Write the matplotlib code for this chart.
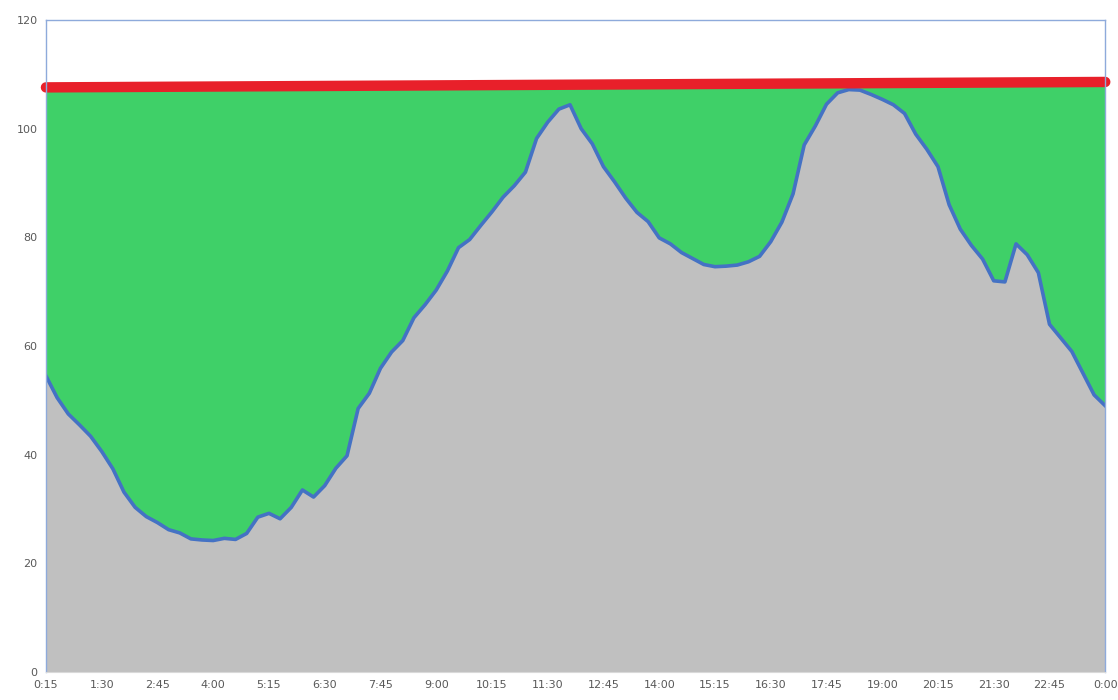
import numpy as np
import matplotlib.pyplot as plt

# load over one day, 15-minute steps starting at 0:15
load = [54.5, 50.5, 47.5, 45.5, 43.4, 40.6, 37.4, 33.1, 30.3, 28.6,
        27.5, 26.2, 25.6, 24.5, 24.3, 24.2, 24.6, 24.4, 25.5, 28.5,
        29.2, 28.2, 30.3, 33.5, 32.2, 34.3, 37.5, 39.8, 48.5, 51.3,
        55.9, 58.9, 61.0, 65.2, 67.6, 70.3, 73.8, 78.1, 79.6, 82.2,
        84.7, 87.4, 89.5, 92.0, 98.2, 101.2, 103.6, 104.4, 100.0, 97.2,
        93.0, 90.2, 87.2, 84.6, 82.9, 79.9, 78.8, 77.2, 76.1, 75.0,
        74.6, 74.7, 74.9, 75.5, 76.5, 79.2, 82.8, 88.0, 97.0, 100.5,
        104.5, 106.6, 107.2, 107.1, 106.3, 105.4, 104.4, 102.8, 99.0, 96.2,
        93.0, 86.0, 81.5, 78.5, 76.0, 72.0, 71.8, 78.8, 76.8, 73.5,
        64.0, 61.5, 59.0, 55.0, 51.0, 49.0]

cap_start = 107.6
cap_end = 108.6

tick_labels = ["0:15", "1:30", "2:45", "4:00", "5:15", "6:30", "7:45", "9:00",
               "10:15", "11:30", "12:45", "14:00", "15:15", "16:30", "17:45",
               "19:00", "20:15", "21:30", "22:45", "0:00"]

x = np.arange(len(load))
cap = np.linspace(cap_start, cap_end, len(load))

fig = plt.figure(figsize=(11.18, 7), dpi=100)
ax = fig.add_axes([0.0411, 0.04, 0.9475, 0.9314])

ax.fill_between(x, 0, load, color="#c0c0c0", linewidth=0)
ax.fill_between(x, load, cap, color="#3fd068", linewidth=0)
ax.plot(x, load, color="#4472c4", linewidth=2.6)
ax.plot([x[0], x[-1]], [cap_start, cap_end], color="#e8202a", linewidth=7.5,
        solid_capstyle="round", clip_on=False)

ax.set_xlim(0, len(load) - 1)
ax.set_ylim(0, 120)
ax.set_xticks(x[::5])
ax.set_xticklabels(tick_labels)
ax.set_yticks(np.arange(0, 121, 20))
ax.tick_params(length=0, labelsize=8, colors="#595959", pad=6)

for side in ["left", "top", "right"]:
    ax.spines[side].set_color("#8eaadb")
    ax.spines[side].set_linewidth(1)
ax.spines["bottom"].set_color("#d9d9d9")

fig.savefig("out.png", dpi=100)
